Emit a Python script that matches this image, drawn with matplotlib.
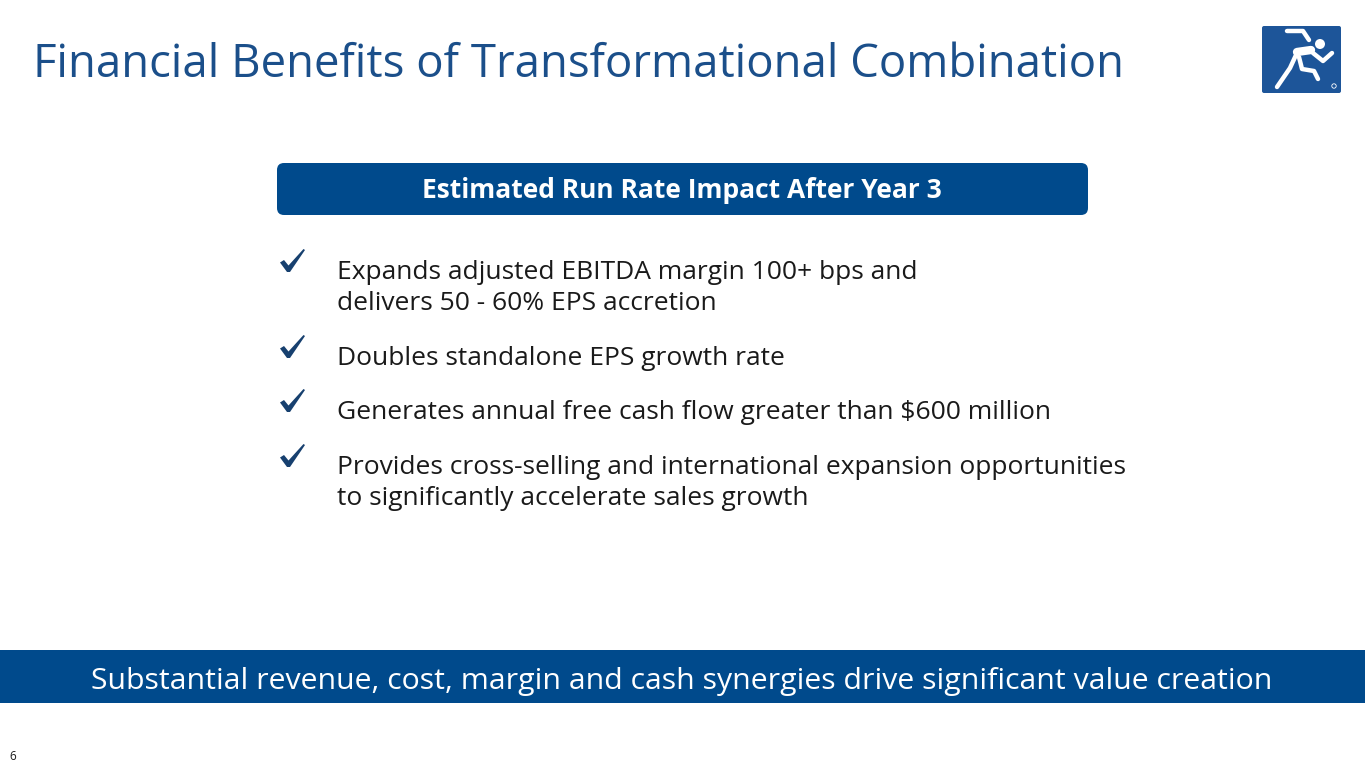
import numpy as np
import matplotlib.pyplot as plt
from matplotlib.patches import FancyBboxPatch, Rectangle, Circle, Polygon

plt.rcParams['font.family'] = ['Open Sans', 'DejaVu Sans']

# slide content
title = "Financial Benefits of Transformational Combination"
header = "Estimated Run Rate Impact After Year 3"
bullets = [
    "Expands adjusted EBITDA margin 100+ bps and\ndelivers 50 - 60% EPS accretion",
    "Doubles standalone EPS growth rate",
    "Generates annual free cash flow greater than $600 million",
    "Provides cross-selling and international expansion opportunities\nto significantly accelerate sales growth",
]
bullet_y = [270, 356, 410, 465]   # first-line centre of each bullet (px)
footer = "Substantial revenue, cost, margin and cash synergies drive significant value creation"
page_no = "6"

BLUE = '#004a8c'
TITLE_BLUE = '#1b4f8a'
CHECK = '#17406f'
TEXT = '#1a1a1a'

# check mark outline, unit box 25 x 23 px
check_shape = np.array([(0, 13.5), (4, 11), (8.5, 16.5), (23.5, 0), (25, 1),
                        (10, 23), (7, 23)])

fig = plt.figure(figsize=(13.65, 7.68), dpi=100)
ax = fig.add_axes([0, 0, 1, 1])
ax.set_xlim(0, 1365)
ax.set_ylim(768, 0)
ax.axis('off')

ax.text(33, 65, title, fontsize=32.8, color=TITLE_BLUE, va='center', ha='left')

# logo
ax.add_patch(FancyBboxPatch((1262, 26), 79, 67, boxstyle='round,pad=0,rounding_size=2',
                            fc='#1d5599', ec='none'))
ax.add_patch(Circle((1320, 44), 5, fc='white', ec='none'))
lw = 3.2
ax.plot([1287, 1303, 1309], [31, 31, 40], color='white', lw=lw, solid_capstyle='round', solid_joinstyle='round')
ax.plot([1297, 1311], [52, 50], color='white', lw=6, solid_capstyle='round')
ax.plot([1313, 1323, 1332], [53, 61, 53], color='white', lw=lw, solid_capstyle='round', solid_joinstyle='round')
ax.plot([1296, 1290, 1277], [55, 68, 87], color='white', lw=lw, solid_capstyle='round', solid_joinstyle='round')
ax.plot([1299, 1302, 1314, 1318], [57, 69, 71, 79], color='white', lw=lw, solid_capstyle='round', solid_joinstyle='round')
ax.add_patch(Circle((1334, 86), 2.2, fc='none', ec='white', lw=0.6))

# header box
ax.add_patch(FancyBboxPatch((277, 163), 811, 52, boxstyle='round,pad=0,rounding_size=7',
                            fc=BLUE, ec='none'))
ax.text(682, 191, header, fontsize=19, fontweight='bold', color='white', ha='center', va='center')

# bullets
for txt, y in zip(bullets, bullet_y):
    ax.add_patch(Polygon(check_shape + [280, y - 21], closed=True, fc=CHECK, ec='none'))
    ax.text(337, y - 10, txt, fontsize=19, color=TEXT, ha='left', va='top', linespacing=1.33)

# footer banner
ax.add_patch(Rectangle((0, 650), 1365, 53, fc=BLUE, ec='none'))
ax.text(682, 681, footer, fontsize=21.8, color='white', ha='center', va='center')

ax.text(9, 757, page_no, fontsize=8.5, color=TEXT, ha='left', va='center')

fig.savefig('out.png', dpi=100)
